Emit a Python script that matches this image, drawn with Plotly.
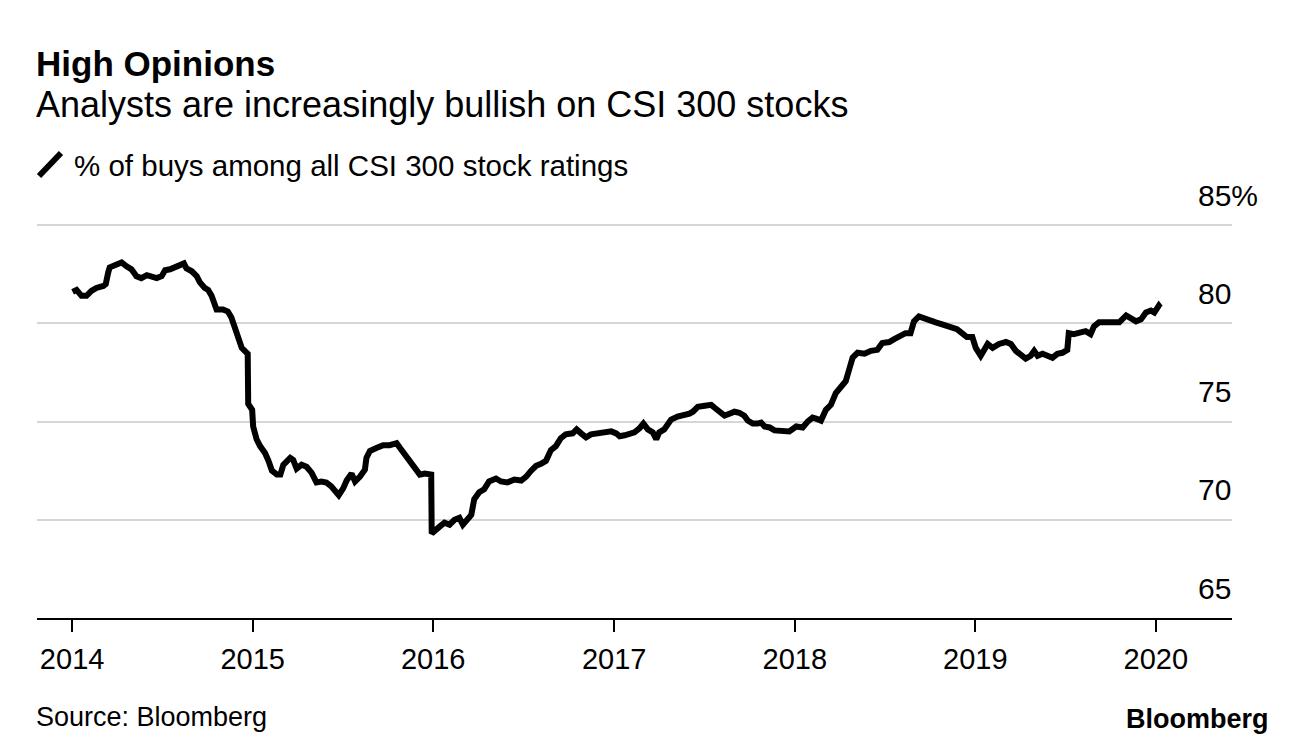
import plotly.graph_objects as go

# ---- data ----
dates = [
    "2014-01-02", "2014-01-10", "2014-01-20", "2014-01-30", "2014-02-09", "2014-02-19",
    "2014-03-05", "2014-03-10", "2014-03-15", "2014-03-18", "2014-04-01", "2014-04-11",
    "2014-04-21", "2014-05-01", "2014-05-11", "2014-05-21", "2014-06-01", "2014-06-11",
    "2014-06-21", "2014-07-01", "2014-07-08", "2014-07-18", "2014-07-28", "2014-08-07",
    "2014-08-15", "2014-08-20", "2014-08-31", "2014-09-10", "2014-09-16", "2014-09-26",
    "2014-10-03", "2014-10-10", "2014-10-15", "2014-10-20", "2014-11-02", "2014-11-12",
    "2014-11-19", "2014-11-26", "2014-12-03", "2014-12-10", "2014-12-20", "2014-12-22",
    "2014-12-23", "2014-12-31",
    "2015-01-02", "2015-01-09", "2015-01-16", "2015-01-26", "2015-02-02", "2015-02-09",
    "2015-02-19", "2015-02-26", "2015-03-04", "2015-03-18", "2015-03-24", "2015-03-31",
    "2015-04-10", "2015-04-20", "2015-04-30", "2015-05-10", "2015-05-20", "2015-05-30",
    "2015-06-09", "2015-06-16", "2015-06-24", "2015-07-03", "2015-07-10", "2015-07-20",
    "2015-07-27", "2015-08-06", "2015-08-16", "2015-08-19", "2015-08-26", "2015-09-08",
    "2015-09-22", "2015-10-05", "2015-10-19", "2015-10-26", "2015-11-05", "2015-11-15",
    "2015-11-25", "2015-12-05", "2015-12-15", "2015-12-24", "2015-12-28",
    "2015-12-29", "2016-01-04", "2016-01-14", "2016-01-24", "2016-02-03", "2016-02-13",
    "2016-02-23", "2016-03-01", "2016-03-11", "2016-03-18", "2016-03-24", "2016-04-03",
    "2016-04-13", "2016-04-23", "2016-05-07", "2016-05-17", "2016-05-30", "2016-06-13",
    "2016-06-27", "2016-07-07", "2016-07-17", "2016-07-27", "2016-08-06", "2016-08-16",
    "2016-08-26", "2016-09-05", "2016-09-15", "2016-09-25", "2016-10-09", "2016-10-17",
    "2016-10-26", "2016-11-05", "2016-11-15", "2016-11-29", "2016-12-12", "2016-12-26",
    "2017-01-05", "2017-01-12", "2017-01-22", "2017-02-01", "2017-02-11", "2017-02-21",
    "2017-03-01", "2017-03-10", "2017-03-20", "2017-03-27", "2017-04-02", "2017-04-12",
    "2017-04-19", "2017-04-26", "2017-05-09", "2017-05-23", "2017-06-02", "2017-06-09",
    "2017-06-19", "2017-07-03", "2017-07-16", "2017-07-23", "2017-08-02", "2017-08-12",
    "2017-08-22", "2017-09-01", "2017-09-11", "2017-09-21", "2017-09-28", "2017-10-08",
    "2017-10-18", "2017-10-25", "2017-11-01", "2017-11-11", "2017-11-21", "2017-12-01",
    "2017-12-11", "2017-12-21",
    "2018-01-04", "2018-01-17", "2018-01-27", "2018-02-06", "2018-02-13", "2018-02-23",
    "2018-03-05", "2018-03-15", "2018-03-25", "2018-04-04", "2018-04-14", "2018-04-21",
    "2018-04-28", "2018-05-08", "2018-05-22", "2018-06-04", "2018-06-17", "2018-06-27",
    "2018-07-11", "2018-07-21", "2018-08-03", "2018-08-13", "2018-08-23", "2018-08-30",
    "2018-09-09", "2018-09-23", "2018-10-03", "2018-10-13", "2018-10-26", "2018-11-05",
    "2018-11-15", "2018-11-25", "2018-12-05", "2018-12-15", "2018-12-26",
    "2019-01-02", "2019-01-12", "2019-01-19", "2019-01-26", "2019-02-05", "2019-02-18",
    "2019-03-04", "2019-03-14", "2019-03-24", "2019-04-03", "2019-04-13", "2019-04-23",
    "2019-04-30", "2019-05-07", "2019-05-17", "2019-05-27", "2019-06-06", "2019-06-16",
    "2019-06-26", "2019-07-06", "2019-07-09", "2019-07-19", "2019-08-02", "2019-08-12",
    "2019-08-22", "2019-08-29", "2019-09-08", "2019-09-22", "2019-10-05", "2019-10-19",
    "2019-11-02", "2019-11-12", "2019-11-22", "2019-12-02", "2019-12-12", "2019-12-22",
    "2019-12-29", "2020-01-07", "2020-01-10",
]

buy_pct = [
    81.6, 81.7, 81.4, 81.4, 81.65, 81.8,
    81.9, 82.0, 82.6, 82.85, 83.0, 83.1,
    82.9, 82.75, 82.4, 82.3, 82.45, 82.4,
    82.3, 82.4, 82.7, 82.75, 82.85, 83.0,
    83.05, 82.8, 82.65, 82.4, 82.1, 81.8,
    81.7, 81.4, 80.95, 80.7, 80.7, 80.6,
    80.3, 79.8, 79.35, 78.75, 78.5, 78.45,
    75.9, 75.6,
    74.75, 74.1, 73.75, 73.4, 73.0, 72.5,
    72.3, 72.3, 72.8, 73.15, 73.05, 72.6,
    72.8, 72.7, 72.4, 71.9, 71.95, 71.9,
    71.7, 71.45, 71.25, 71.6, 72.0, 72.35,
    71.95, 72.2, 72.55, 73.15, 73.5, 73.65,
    73.8, 73.8, 73.9, 73.65, 73.3, 73.0,
    72.7, 72.3, 72.35, 72.3, 72.3,
    69.3, 69.4, 69.65, 69.85, 69.75, 70.0,
    70.1, 69.75, 70.0, 70.25, 71.05, 71.4,
    71.55, 71.95, 72.1, 71.95, 71.9, 72.05,
    72.0, 72.2, 72.5, 72.75, 72.85, 73.0,
    73.55, 73.75, 74.15, 74.35, 74.4, 74.6,
    74.4, 74.2, 74.35, 74.4, 74.45, 74.5,
    74.4, 74.25, 74.3, 74.35, 74.45, 74.65,
    74.9, 74.6, 74.45, 74.1, 74.45, 74.6,
    74.9, 75.1, 75.25, 75.3, 75.4, 75.5,
    75.75, 75.8, 75.85, 75.7, 75.5, 75.3,
    75.4, 75.5, 75.45, 75.3, 75.05, 74.9,
    74.9, 74.95, 74.75, 74.7, 74.55, 74.55,
    74.5, 74.5,
    74.75, 74.7, 75.0, 75.2, 75.15, 75.05,
    75.6, 75.85, 76.45, 76.8, 77.05, 77.65,
    78.25, 78.5, 78.45, 78.6, 78.65, 79.0,
    79.05, 79.2, 79.35, 79.5, 79.5, 80.1,
    80.35, 80.25, 80.2, 80.05, 79.95, 79.85,
    79.8, 79.7, 79.5, 79.3, 79.3,
    78.75, 78.35, 78.6, 78.95, 78.75, 78.95,
    79.05, 78.95, 78.6, 78.35, 78.2, 78.35,
    78.6, 78.35, 78.45, 78.35, 78.25, 78.45,
    78.5, 78.65, 79.5, 79.45, 79.5, 79.6,
    79.45, 79.85, 80.05, 80.05, 80.05, 80.05,
    80.4, 80.25, 80.1, 80.2, 80.55, 80.65,
    80.55, 80.9, 80.8,
]

x_tick_vals = ["2014-01-01", "2015-01-01", "2016-01-01", "2017-01-01",
               "2018-01-01", "2019-01-01", "2020-01-01"]
x_tick_text = ["2014", "2015", "2016", "2017", "2018", "2019", "2020"]
y_tick_vals = [65, 70, 75, 80, 85]
y_tick_text = ["65", "70", "75", "80", "85%"]

title = "High Opinions"
subtitle = "Analysts are increasingly bullish on CSI 300 stocks"
series_name = "% of buys among all CSI 300 stock ratings"
source = "Source: Bloomberg"

# ---- layout (page body has an 8px default margin) ----
OFF = 8
W, H = 1296 - OFF, 746 - OFF
PLOT_L, PLOT_R, PLOT_T, PLOT_B = 37, 1232, 176, 618   # screen pixels
ML, MR = PLOT_L - OFF, 1296 - PLOT_R
MT, MB = PLOT_T - OFF, 746 - PLOT_B
PW, PH = PLOT_R - PLOT_L, PLOT_B - PLOT_T


def px(x):
    return (x - PLOT_L) / PW


def py(y):
    return (PLOT_B - y) / PH


FONT = "Liberation Sans, Arial, Helvetica, sans-serif"

fig = go.Figure()
fig.add_trace(go.Scatter(
    x=dates, y=buy_pct, mode="lines", name=series_name,
    line=dict(color="#000000", width=6, shape="linear"),
    showlegend=False, hoverinfo="x+y",
))

fig.update_layout(
    width=W, height=H,
    margin=dict(l=ML, r=MR, t=MT, b=MB, autoexpand=False),
    paper_bgcolor="#ffffff", plot_bgcolor="#ffffff",
    font=dict(family=FONT, color="#000000"),
    xaxis=dict(
        type="date",
        range=["2013-10-22", "2020-06-03"],
        tickvals=x_tick_vals, ticktext=x_tick_text,
        showgrid=False, zeroline=False,
        showline=True, linecolor="#000000", linewidth=2,
        ticks="outside", ticklen=12, tickcolor="#000000", tickwidth=1.5,
        ticklabelstandoff=2,
        tickfont=dict(size=29, family=FONT, color="#000000"),
        fixedrange=True,
    ),
    yaxis=dict(
        range=[65, 87.5],
        side="right",
        anchor="free",
        position=px(1197),
        tickvals=y_tick_vals, ticktext=y_tick_text,
        ticklabelposition="outside top",
        ticklabelshift=-9,
        ticks="",
        showgrid=True, gridcolor="#d6d6d6", gridwidth=2,
        zeroline=False, showline=False,
        tickfont=dict(size=30, family=FONT, color="#000000"),
        fixedrange=True,
    ),
    showlegend=False,
)

annotations = [
    dict(text="<b>" + title + "</b>", x=px(34), y=py(63), xanchor="left", yanchor="middle",
         font=dict(size=35, family=FONT, color="#000000")),
    dict(text=subtitle, x=px(34), y=py(105), xanchor="left", yanchor="middle",
         font=dict(size=36, family=FONT, color="#000000")),
    dict(text=series_name, x=px(72), y=py(165), xanchor="left", yanchor="middle",
         font=dict(size=29.5, family=FONT, color="#000000")),
    dict(text=source, x=px(34), y=py(717), xanchor="left", yanchor="middle",
         font=dict(size=27, family=FONT, color="#000000")),
    dict(text="<b>Bloomberg</b>", x=px(1271), y=py(719), xanchor="right", yanchor="middle",
         font=dict(size=27, family=FONT, color="#000000")),
]
for a in annotations:
    a.update(xref="paper", yref="paper", showarrow=False)
fig.update_layout(annotations=annotations)

fig.add_shape(type="line", xref="paper", yref="paper",
              x0=px(39), y0=py(176), x1=px(61), y1=py(153),
              line=dict(color="#000000", width=6))

fig.write_html("out.html")
